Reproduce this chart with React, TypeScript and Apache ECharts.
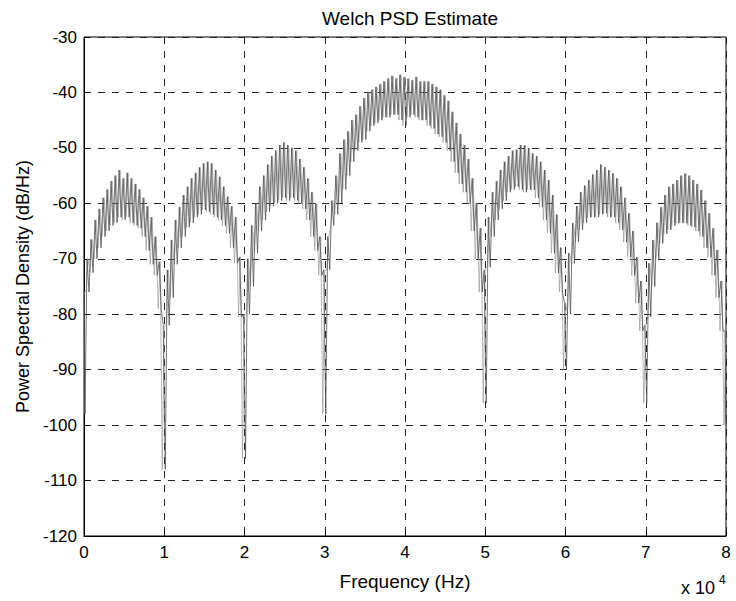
import React, { useEffect, useRef } from "react";
import * as echarts from "echarts";

const titleText = "Welch PSD Estimate";
const xName = "Frequency (Hz)";
const yName = "Power Spectral Density (dB/Hz)";
const xTicks = [0, 1, 2, 3, 4, 5, 6, 7, 8];
const yTicks = [-120, -110, -100, -90, -80, -70, -60, -50, -40, -30];
const freqStep = 0.05; // in units of 10^4 Hz

// upper edge of the noisy PSD band, f = 0 .. 8 (x10^4 Hz), step 0.05
const upperEnvelope = [
  -76,
  -70, -66.5, -63, -61, -59, -57.5, -56, -55, -54, -55.5, -54.5, -55.5, -56.5, -57.5, -59, -60.5, -62.5, -66, -70.5,
  -82,
  -72, -66.6, -63, -60.7, -58.5, -57, -55.5, -54.5, -53.5, -52.8, -52.5, -52.8, -54, -55.2, -57, -58.8, -60.5, -62.5, -69.7,
  -80,
  -70, -64, -60, -57, -55, -53, -51.5, -50.5, -49.5, -49, -49.5, -50, -50.5, -52, -53.5, -55.5, -58, -60, -66,
  -72,
  -66, -59.5, -55, -51, -48.5, -47, -45, -44, -42.5, -41, -40, -39.5, -39, -38.5, -38, -37.5, -37, -37.5, -36.8, -37.2,
  -37.5, -37.8, -37.2, -38, -38, -38, -38.5, -39, -39.5, -40.5, -41.5, -43.5, -45.5, -47.5, -49.5, -52, -55.5, -60, -64.5,
  -72,
  -62.5, -58, -56, -54, -52.5, -51.5, -50.5, -50.3, -49.5, -49.5, -50, -51, -51.5, -52.5, -54, -55.8, -58.5, -62, -68,
  -78,
  -69, -63.6, -60.5, -58, -56.8, -55.8, -54.8, -54, -53, -53.5, -54, -54.6, -55.5, -57, -59, -61.8, -65, -69.7, -74,
  -82,
  -70.8, -66.6, -63.5, -60.7, -58.5, -57, -56.5, -55.8, -55, -54.6, -55, -55.8, -56.5, -57.6, -59.5, -61.8, -64.5, -68.4, -74,
  -83,
];

// lower edge of the noisy PSD band, same frequencies
const lowerEnvelope = [
  -98,
  -76, -72.5, -70, -68, -66, -65, -64, -63.5, -62.5, -63, -62.5, -63.5, -64, -64.5, -66, -68.5, -71, -73, -79,
  -108,
  -82, -77, -71, -68, -66, -64.3, -63.5, -62.5, -62, -61.2, -61.5, -62, -62.5, -63, -64, -65.4, -68, -70.8, -80.5,
  -106,
  -80, -75, -69, -65, -63, -61.5, -60.5, -60, -59.5, -59, -59.5, -59, -59.5, -60, -61, -63, -66, -68.5, -73,
  -98,
  -72, -64, -62, -60, -57.5, -55, -52.5, -50.5, -49, -48.5, -47, -46, -45.5, -45, -44.5, -44.5, -44, -44, -45, -46,
  -44.5, -44, -44.5, -45, -45, -46, -46.5, -47.5, -48, -49, -50.5, -52.5, -54.5, -56.5, -58, -60, -65, -70, -76,
  -96,
  -71.5, -66, -63, -61, -59.5, -58, -57.5, -57, -57.5, -58, -57.5, -57.6, -59, -60.7, -63, -65.4, -69, -72.6, -76,
  -90,
  -80, -70.8, -67, -64.8, -63.5, -62.5, -62.5, -62.5, -62, -61.8, -62.5, -62.5, -63.5, -64.8, -67, -69.7, -73, -78, -83,
  -96,
  -80.5, -75, -70, -67.2, -65.5, -64.8, -64, -63.6, -63.5, -63.6, -64, -64.3, -65, -66, -68, -69.7, -73, -77, -83,
  -100,
];

const FONT = "'Liberation Sans', Arial, Helvetica, sans-serif";

export default function App() {
  const ref = useRef<HTMLDivElement>(null);

  useEffect(() => {
    if (!ref.current) return;
    const chart = echarts.init(ref.current, undefined, { renderer: "svg" });

    const xMin = xTicks[0];
    const xMax = xTicks[xTicks.length - 1];
    const q = freqStep / 4;

    // hatching: zig-zag between the two edges, two interleaved passes
    const hatchA: [number, number][] = [];
    const hatchB: [number, number][] = [];
    const baseLower: [number, number][] = [];
    const bandWidth: [number, number][] = [];
    for (let i = 0; i < upperEnvelope.length; i++) {
      const f = xMin + i * freqStep;
      hatchA.push([Math.max(xMin, f - q), upperEnvelope[i]]);
      hatchA.push([Math.min(xMax, f + q), lowerEnvelope[i]]);
      hatchB.push([Math.max(xMin, f - q * 2), lowerEnvelope[i]]);
      hatchB.push([f, upperEnvelope[i]]);
      baseLower.push([f, lowerEnvelope[i]]);
      bandWidth.push([f, upperEnvelope[i] - lowerEnvelope[i]]);
    }

    const gridLine = {
      show: true,
      lineStyle: { color: "#222", width: 1, type: [7, 7] as any },
    };

    chart.setOption({
      animation: false,
      backgroundColor: "#fff",
      textStyle: { fontFamily: FONT },
      title: {
        text: titleText,
        left: 405,
        textAlign: "center",
        top: 4,
        textStyle: { fontFamily: FONT, fontSize: 19, fontWeight: "normal", color: "#000" },
      },
      grid: {
        left: 84,
        right: 10,
        top: 37,
        bottom: 65,
        show: true,
        borderColor: "#000",
        borderWidth: 1,
        backgroundColor: "transparent",
      },
      xAxis: {
        type: "value",
        min: xMin,
        max: xMax,
        interval: 1,
        name: xName,
        nameLocation: "middle",
        nameGap: 36,
        nameTextStyle: { fontFamily: FONT, fontSize: 19, color: "#000" },
        axisLine: { show: true, onZero: false, lineStyle: { color: "#000", width: 1 } },
        axisTick: { show: true, inside: true, length: 5, lineStyle: { color: "#000" } },
        axisLabel: { fontFamily: FONT, fontSize: 17, color: "#000", margin: 8 },
        splitLine: gridLine,
      },
      yAxis: {
        type: "value",
        min: yTicks[0],
        max: yTicks[yTicks.length - 1],
        interval: 10,
        name: yName,
        nameLocation: "middle",
        nameGap: 52,
        nameTextStyle: { fontFamily: FONT, fontSize: 18, color: "#000" },
        axisLine: { show: true, onZero: false, lineStyle: { color: "#000", width: 1 } },
        axisTick: { show: true, inside: true, length: 5, lineStyle: { color: "#000" } },
        axisLabel: { fontFamily: FONT, fontSize: 17, color: "#000", margin: 7 },
        splitLine: gridLine,
      },
      graphic: [
        {
          type: "text",
          left: 681,
          top: 579,
          style: { text: "x 10", font: `18px ${FONT}`, fill: "#000" },
        },
        {
          type: "text",
          left: 719,
          top: 574,
          style: { text: "4", font: `12px ${FONT}`, fill: "#000" },
        },
      ],
      series: [
        {
          type: "line",
          data: baseLower,
          stack: "band",
          showSymbol: false,
          symbol: "none",
          lineStyle: { width: 0, opacity: 0 },
          silent: true,
          z: 1,
        },
        {
          type: "line",
          data: bandWidth,
          stack: "band",
          showSymbol: false,
          symbol: "none",
          lineStyle: { width: 0, opacity: 0 },
          areaStyle: { color: "#c4c4c4", opacity: 1 },
          silent: true,
          z: 1,
        },
        {
          type: "line",
          data: hatchB,
          showSymbol: false,
          symbol: "none",
          clip: true,
          lineStyle: { color: "#9a9a9a", width: 0.7 },
          z: 2,
        },
        {
          type: "line",
          data: hatchA,
          showSymbol: false,
          symbol: "none",
          clip: true,
          lineStyle: { color: "#505050", width: 0.8 },
          z: 3,
        },
      ],
    });

    return () => chart.dispose();
  }, []);

  return (
    <div
      ref={ref}
      style={{ position: "fixed", left: 0, top: 0, width: 736, height: 601, background: "#fff" }}
    />
  );
}
